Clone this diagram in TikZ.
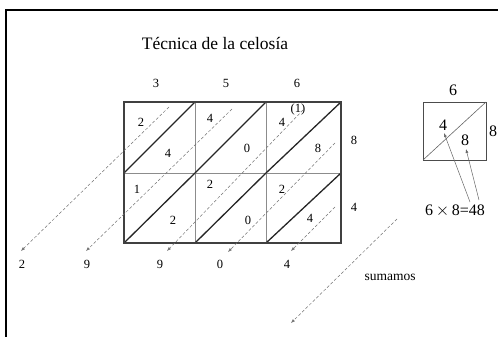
\documentclass[tikz,border=0pt]{standalone}
\usepackage{fontspec}
\setmainfont{Liberation Serif}
\usetikzlibrary{arrows.meta}
\tikzset{
  dig/.style={font=\fontsize{12.5}{12.5}\selectfont, inner sep=0pt},
  big/.style={font=\fontsize{16}{16}\selectfont, inner sep=0pt},
  sumarrow/.style={draw=black!55, line width=0.5pt, densely dashed, -{Latex[length=4pt,width=3pt]}},
  prodarrow/.style={draw=black!60, line width=0.5pt, -{Latex[length=4pt,width=3pt]}},
  thickdiag/.style={line width=1.3pt, black!85},
  inner/.style={line width=0.7pt, black!45},
}
\begin{document}
\begin{tikzpicture}[x=1pt,y=-1pt]
\useasboundingbox (0,0) rectangle (498,337);
% frame
\draw[line width=1.6pt] (6,337) -- (6,10) -- (498,10);
% title
\node[font=\fontsize{17.5}{17.5}\selectfont] (title) at (215,44) {Técnica de la celosía};
% grid coordinates
\coordinate (g00) at (124,102); \coordinate (g30) at (341,102);
\coordinate (g03) at (124,243); \coordinate (g33) at (341,243);
% inner lines
\draw[inner] (195,102) -- (195,243);
\draw[inner] (266,102) -- (266,243);
\draw[inner] (124,173) -- (341,173);
% diagonals
\draw[thickdiag] (124,173) -- (195,102);
\draw[thickdiag] (195,173) -- (266,102);
\draw[thickdiag] (266,173) -- (341,102);
\draw[thickdiag] (124,243) -- (195,173);
\draw[thickdiag] (195,243) -- (266,173);
\draw[thickdiag] (266,243) -- (341,173);
% outer border
\draw[line width=1.2pt, black!75] (g00) rectangle (g33);
% top and right digits
\node[dig] (t3) at (156,83) {3};
\node[dig] (t5) at (226,83) {5};
\node[dig] (t6) at (297,83) {6};
\node[dig] (r8) at (354,140) {8};
\node[dig] (r4) at (354,207) {4};
% cell digits
\node[dig] (c11a) at (141,122) {2};
\node[dig] (c11b) at (168,153) {4};
\node[dig] (c12a) at (210,118) {4};
\node[dig] (c12b) at (247,148) {0};
\node[dig] (c13a) at (282,122) {4};
\node[dig] (c13c) at (298,109) {(1)};
\node[dig] (c13b) at (318,148) {8};
\node[dig] (c21a) at (137,189) {1};
\node[dig] (c21b) at (173,220) {2};
\node[dig] (c22a) at (210,184) {2};
\node[dig] (c22b) at (248,220) {0};
\node[dig] (c23a) at (282,189) {2};
\node[dig] (c23b) at (310,218) {4};
% bottom result digits
\node[dig] (b1) at (22,264) {2};
\node[dig] (b2) at (87,264) {9};
\node[dig] (b3) at (160,264) {9};
\node[dig] (b4) at (220,264) {0};
\node[dig] (b5) at (287,264) {4};
% sum arrows
\coordinate (s1) at (169,107); \coordinate (e1) at (21,251);
\coordinate (s2) at (232,109); \coordinate (e2) at (86,251);
\coordinate (s3) at (303,110); \coordinate (e3) at (167,251);
\coordinate (s4) at (335,143); \coordinate (e4) at (228,252);
\coordinate (s5) at (335,207); \coordinate (e5) at (291,251);
\coordinate (s6) at (397,219); \coordinate (e6) at (291,323);
\draw[sumarrow] (s1) -- (e1);
\draw[sumarrow] (s2) -- (e2);
\draw[sumarrow] (s3) -- (e3);
\draw[sumarrow] (s4) -- (e4);
\draw[sumarrow] (s5) -- (e5);
\draw[sumarrow] (s6) -- (e6);
\node[inner sep=0pt, font=\fontsize{13.5}{13.5}\selectfont] (sum) at (390,277) {sumamos};
% small square
\draw[line width=0.7pt, black!70] (423,102) rectangle (486,160);
\draw[line width=0.6pt, black!60] (423,160) -- (486,102);
\node[big] (q6) at (453,90) {6};
\node[big] (q8r) at (493,131) {8};
\node[big] (q4) at (443,125) {4};
\node[big] (q8) at (465,140) {8};
\node[big] (eq) at (455,211) {6\,$\times$\,8=48};
\coordinate (p1) at (470,202); \coordinate (p2) at (479,200);
\draw[prodarrow] (p1) -- (444,133);
\draw[prodarrow] (p2) -- (466,149);
\end{tikzpicture}
\end{document}
